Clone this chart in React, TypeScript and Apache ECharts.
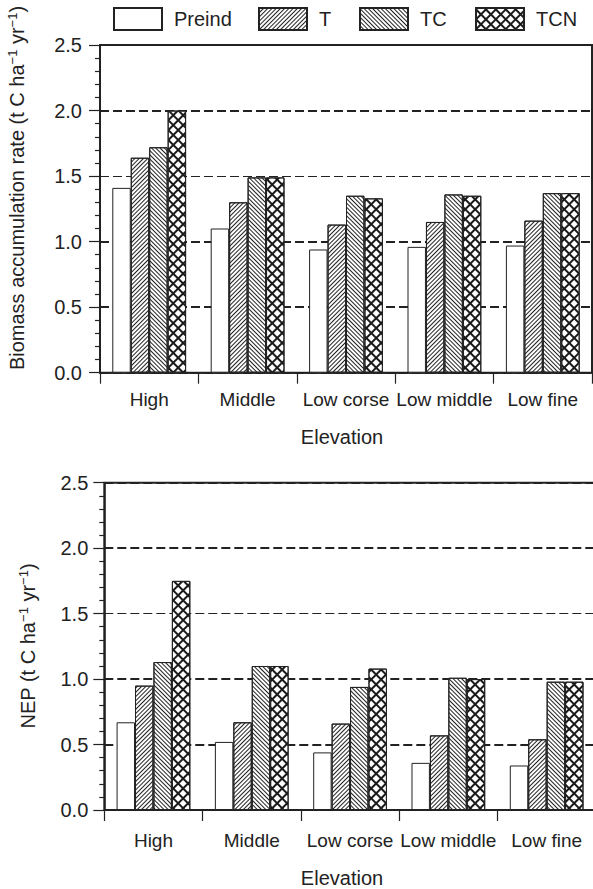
import React, { useEffect, useRef } from "react";
import * as echarts from "echarts";

const categories = ["High", "Middle", "Low corse", "Low middle", "Low fine"];
const seriesNames = ["Preind", "T", "TC", "TCN"];

const biomassPreind = [1.41, 1.10, 0.94, 0.96, 0.97];
const biomassT = [1.64, 1.30, 1.13, 1.15, 1.16];
const biomassTC = [1.72, 1.49, 1.35, 1.36, 1.37];
const biomassTCN = [2.0, 1.49, 1.33, 1.35, 1.37];

const nepPreind = [0.67, 0.52, 0.44, 0.36, 0.34];
const nepT = [0.95, 0.67, 0.66, 0.57, 0.54];
const nepTC = [1.13, 1.10, 0.94, 1.01, 0.98];
const nepTCN = [1.75, 1.10, 1.08, 1.00, 0.98];

const yMin = 0;
const yMax = 2.5;
const yInterval = 0.5;

const FONT = "Liberation Sans, Arial, Helvetica, sans-serif";
const INK = "#222";

const decals: any[] = [
  null,
  { symbol: "rect", symbolSize: 1, color: INK, dashArrayX: [1, 0], dashArrayY: [1, 1.5], rotation: -Math.PI / 4 },
  { symbol: "rect", symbolSize: 1, color: INK, dashArrayX: [1, 0], dashArrayY: [1, 1.5], rotation: Math.PI / 4 },
  {
    symbol: "rect",
    symbolSize: 1,
    color: "#1a1a1a",
    dashArrayX: [[1, 0], [1.1, 4.9]],
    dashArrayY: [1.1, 0, 4.9, 0],
    rotation: Math.PI / 4,
  },
];

const legendLefts = [113, 258, 359, 475];

export default function App() {
  const ref = useRef<HTMLDivElement>(null);
  useEffect(() => {
    if (!ref.current) return;
    const chart = echarts.init(ref.current, undefined, { renderer: "svg" });
    const topData = [biomassPreind, biomassT, biomassTC, biomassTCN];
    const botData = [nepPreind, nepT, nepTC, nepTCN];

    const xAxisBase = (gridIndex: number, margin: number) => ({
      type: "category",
      gridIndex,
      data: categories,
      axisLine: { show: true, lineStyle: { color: INK, width: 1.5 } },
      axisTick: { show: true, length: 11, alignWithLabel: false, lineStyle: { color: INK, width: 1.2 } },
      axisLabel: { interval: 0, margin, fontSize: 19, fontFamily: FONT, color: INK },
      splitLine: { show: false },
    });
    const yAxisBase = (gridIndex: number, margin: number) => ({
      type: "value",
      gridIndex,
      min: yMin,
      max: yMax,
      interval: yInterval,
      axisLine: { show: true, lineStyle: { color: INK, width: 1.5 } },
      axisTick: { show: true, length: 11, lineStyle: { color: INK, width: 1.2 } },
      minorTick: { show: true, splitNumber: 5, length: 5, lineStyle: { color: INK, width: 1.2 } },
      axisLabel: { margin, fontSize: 20, fontFamily: FONT, color: INK, formatter: (v: number) => v.toFixed(1) },
      splitLine: {
        show: true,
        lineStyle: { color: [INK, INK, INK, "transparent", INK, INK], width: 1.8, type: [9, 4] },
      },
    });
    const yAxisThin = (gridIndex: number) => ({
      type: "value",
      gridIndex,
      min: 0,
      max: yMax,
      interval: 1.5,
      position: "left",
      axisLine: { show: false },
      axisTick: { show: false },
      axisLabel: { show: false },
      splitLine: { show: true, lineStyle: { color: INK, width: 1, type: [9, 4] } },
    });

    const series: any[] = [];
    [topData, botData].forEach((set, gi) => {
      set.forEach((d, si) => {
        series.push({
          type: "bar",
          name: seriesNames[si],
          xAxisIndex: gi,
          yAxisIndex: gi,
          data: d,
          barGap: "0%",
          barCategoryGap: "25%",
          itemStyle: {
            color: "#fff",
            borderColor: INK,
            borderWidth: 1,
            decal: decals[si] || undefined,
          },
        });
      });
    });

    const legends = seriesNames.map((n, i) => ({
      data: [n],
      left: legendLefts[i],
      top: 7,
      padding: 0,
      icon: "rect",
      itemWidth: 48,
      itemHeight: 22,
      selectedMode: false,
      textStyle: { fontSize: 20, fontFamily: FONT, color: INK, padding: [0, 0, 0, 7] },
    }));

    const sup = { fontSize: 13, fontFamily: FONT, fill: INK, verticalAlign: "top", lineHeight: 22 };

    chart.setOption({
      animation: false,
      backgroundColor: "#fff",
      legend: legends,
      grid: [
        { left: 100, top: 45, width: 492, height: 327.7, show: true, borderColor: INK, borderWidth: 2, backgroundColor: "transparent" },
        { left: 104.3, top: 482.7, width: 491.5, height: 327.3, show: true, borderColor: INK, borderWidth: 2, backgroundColor: "transparent" },
      ],
      xAxis: [xAxisBase(0, 17), xAxisBase(1, 21)],
      yAxis: [yAxisBase(0, 18), yAxisBase(1, 16), yAxisThin(0), yAxisThin(1)],
      series,
      graphic: [
        {
          type: "text",
          x: 17,
          y: 188,
          rotation: Math.PI / 2,
          style: {
            text: "Biomass accumulation rate (t C ha{sup|−1} yr{sup|−1})",
            fontSize: 20,
            fontFamily: FONT,
            fill: INK,
            align: "center",
            verticalAlign: "middle",
            rich: { sup },
          },
        },
        {
          type: "text",
          x: 28,
          y: 646,
          rotation: Math.PI / 2,
          style: {
            text: "NEP (t C ha{sup|−1} yr{sup|−1})",
            fontSize: 20,
            fontFamily: FONT,
            fill: INK,
            align: "center",
            verticalAlign: "middle",
            rich: { sup },
          },
        },
        {
          type: "text",
          x: 342,
          y: 437,
          style: { text: "Elevation", fontSize: 20, fontFamily: FONT, fill: INK, align: "center", verticalAlign: "middle" },
        },
        {
          type: "text",
          x: 342,
          y: 878,
          style: { text: "Elevation", fontSize: 20, fontFamily: FONT, fill: INK, align: "center", verticalAlign: "middle" },
        },
      ],
    });
    return () => chart.dispose();
  }, []);
  return <div ref={ref} style={{ position: "fixed", left: 0, top: 0, width: 600, height: 889 }} />;
}
